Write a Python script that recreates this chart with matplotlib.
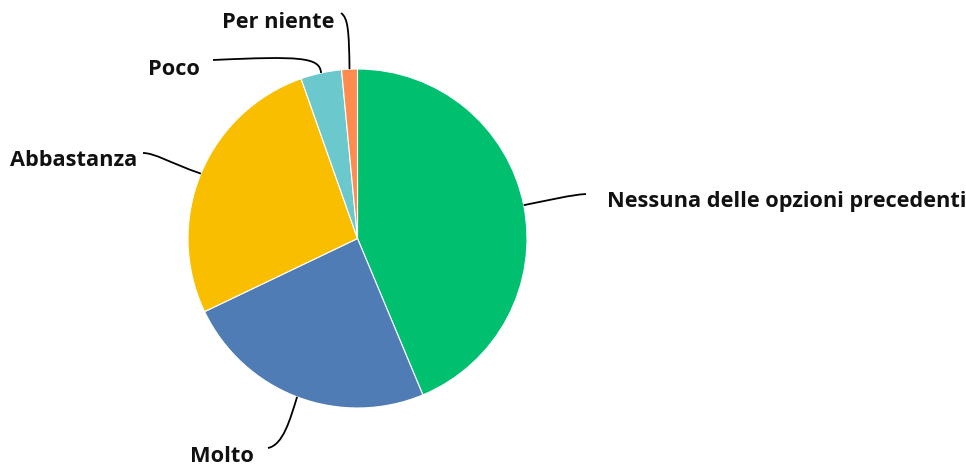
import numpy as np
import matplotlib
matplotlib.use('Agg')
from matplotlib import pyplot as plt
from matplotlib.path import Path
from matplotlib.patches import PathPatch

labels = ['Nessuna delle opzioni precedenti', 'Molto', 'Abbastanza', 'Poco', 'Per niente']
values = [43.7, 24.2, 26.7, 3.9, 1.5]
colors = ['#00BF6F', '#507CB6', '#F9BE00', '#6BC8CD', '#FF8B4F']

W, H = 966, 471
cx, cy, r = 357.5, H - 238.5, 169.5

fig = plt.figure(figsize=(W / 100, H / 100), dpi=100)
ax = fig.add_axes([0, 0, 1, 1])
ax.pie(values, colors=colors, startangle=90, counterclock=False,
       center=(cx, cy), radius=r,
       wedgeprops=dict(edgecolor='white', linewidth=0.8))
ax.set_xlim(0, W)
ax.set_ylim(0, H)
ax.axis('off')

# label text position (pixels from top-left, baseline) and leader curve control points
lab_pos = {
    'Nessuna delle opzioni precedenti': (607, 207),
    'Molto': (190, 462),
    'Abbastanza': (10, 166),
    'Poco': (148, 75),
    'Per niente': (222, 28),
}
leader = {
    'Nessuna delle opzioni precedenti': [(550, 200), (570, 195), (586, 194)],
    'Molto': [(290, 420), (283, 445), (268, 448)],
    'Abbastanza': [(170, 163), (155, 153), (143, 153)],
    'Poco': [(320, 57), (300, 56), (213, 60)],
    'Per niente': [(349, 30), (348, 18), (341, 13)],
}

tot = sum(values)
start = 0.0
for lab, v in zip(labels, values):
    mid = np.radians(start + v / tot * 180)
    start += v / tot * 360
    ax0 = (cx + r * np.sin(mid), cy + r * np.cos(mid))
    pts = [ax0] + [(x, H - y) for x, y in leader[lab]]
    path = Path(pts, [Path.MOVETO, Path.CURVE4, Path.CURVE4, Path.CURVE4])
    ax.add_patch(PathPatch(path, fc='none', ec='black', lw=1.3))
    tx, ty = lab_pos[lab]
    ax.text(tx, H - ty, lab, ha='left', va='baseline', fontsize=15.7,
            fontweight='bold', family=['Open Sans', 'DejaVu Sans'], color='#111111')

fig.savefig('out.png', dpi=100)
